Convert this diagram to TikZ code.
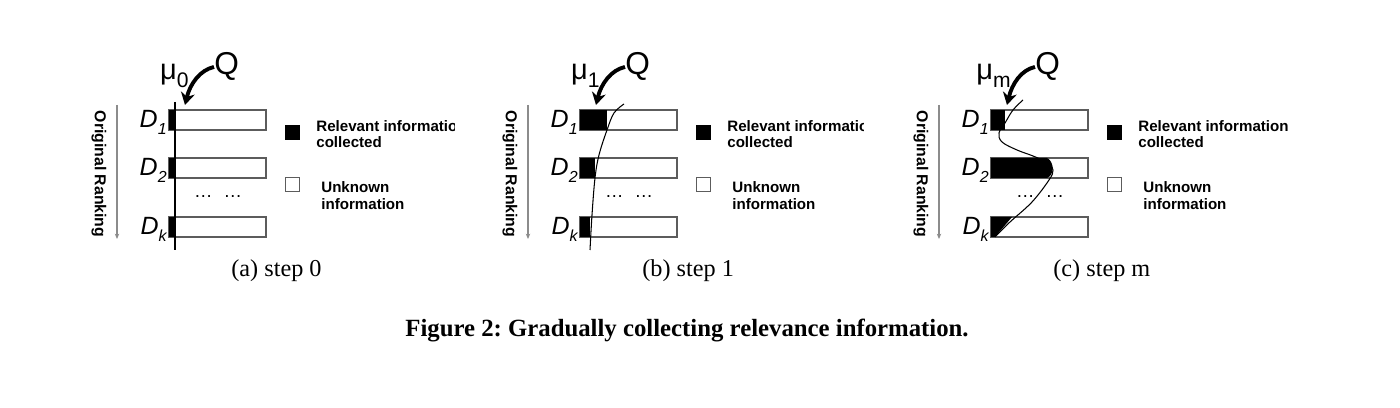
\documentclass[tikz,border=0pt]{standalone}
\usepackage{fontspec}
\setmainfont{Liberation Serif}
\setsansfont{Liberation Sans}
\usepackage{tikz}
\usetikzlibrary{positioning,arrows.meta}
\frenchspacing
\definecolor{BarGray}{HTML}{5C5C5C}
\definecolor{RankGray}{HTML}{8C8C8C}
\newcommand{\dsub}[1]{\raisebox{-3.5pt}{\fontsize{9.1}{10}\selectfont #1}}
\newcommand{\musub}[1]{\raisebox{-4.5pt}{\fontsize{12}{13}\selectfont #1}}
\tikzset{
  barbox/.style={draw=BarGray,fill=white,line width=0.8pt,
    minimum width=1.94cm,minimum height=0.40cm,inner sep=0pt},
  hitfill/.style={fill=black,draw=none},
  doclab/.style={font=\fontsize{14.2}{16}\selectfont\sffamily\itshape,
    inner sep=0pt,anchor=base east},
  qlab/.style={font=\fontsize{18}{20}\selectfont\sffamily,inner sep=0pt},
  mulab/.style={font=\fontsize{16.5}{18}\selectfont\sffamily,inner sep=0pt,anchor=base east},
  qarrow/.style={line width=2.2pt,-{Stealth[length=7pt,width=8pt]}},
  ranklab/.style={font=\fontsize{9}{10}\selectfont\sffamily\bfseries,
    rotate=-90,inner sep=0pt},
  rankarrow/.style={draw=RankGray,line width=0.6pt,
    -{Stealth[length=3pt,width=2.5pt]}},
  legblack/.style={fill=black,minimum width=0.30cm,minimum height=0.30cm,inner sep=0pt},
  legwhite/.style={draw=BarGray,fill=white,line width=0.6pt,
    minimum width=0.28cm,minimum height=0.28cm,inner sep=0pt},
  legrel/.style={font=\fontsize{8.6}{9.3}\selectfont\sffamily\bfseries,
    align=left,inner sep=0pt,anchor=west},
  legunk/.style={font=\fontsize{8.6}{9.7}\selectfont\sffamily\bfseries,
    align=left,inner sep=0pt,anchor=west},
  dotlab/.style={font=\fontsize{10.5}{12}\selectfont\sffamily,inner sep=0pt},
  sublab/.style={font=\fontsize{13.8}{16}\selectfont,inner sep=0pt,anchor=base west},
  curveline/.style={line width=0.6pt},
}

\begin{document}
\begin{tikzpicture}[x=0.02cm,y=-0.02cm]
  \useasboundingbox (0,0) rectangle (1400,408);

  % (a) step 0
  \begin{scope}
    \node[ranklab] (ranka) at (99,174) {Original Ranking};
    \coordinate (rtopa) at (117,105);
    \coordinate (rbota) at (117,239);
    \draw[rankarrow] (rtopa) -- (rbota);
    \node[barbox] (bar1a) at (217.5,120) {};
    \node[barbox] (bar2a) at (217.5,168) {};
    \node[barbox] (barka) at (217.5,227) {};
    \fill[hitfill] (169,110) rectangle (175,130);
    \fill[hitfill] (169,158) rectangle (175,178);
    \fill[hitfill] (169,217) rectangle (175,237);
    \draw[curveline] (175,102) -- (175,250);
    \node[doclab] (d1a) at (167,128) {D\dsub{1}};
    \node[doclab] (d2a) at (167,176) {D\dsub{2}};
    \node[doclab] (dka) at (167,235) {D\dsub{k}};
    \node[dotlab] (dotsa) at (218,197) {…\hspace{0.6em}…};
    \node[mulab] (mua) at (189,80) {μ\musub{0}};
    \node[qlab,anchor=base west] (qa) at (214,75) {Q};
    \coordinate (tipa) at (185,105);
    \draw[qarrow] (qa.west) .. controls (200,70) and (190,84) .. (tipa);
    \node[legblack] (lrela) at (292.5,132.5) {};
    \node[legwhite] (lunka) at (292.5,184.5) {};
    \begin{scope}
      \clip (305,100) rectangle (454,160);
      \node[legrel] (trela) at (316,134) {Relevant information\\collected};
    \end{scope}
    \node[legunk] (tunka) at (321,196) {Unknown\\information};
    \node[sublab] (capa) at (231,277) {(a) step 0};
  \end{scope}

  % (b) step 1
  \begin{scope}[shift={(411,0)}]
    \node[ranklab] (rankb) at (99,174) {Original Ranking};
    \coordinate (rtopb) at (117,105);
    \coordinate (rbotb) at (117,239);
    \draw[rankarrow] (rtopb) -- (rbotb);
    \node[barbox] (bar1b) at (217.5,120) {};
    \node[barbox] (bar2b) at (217.5,168) {};
    \node[barbox] (barkb) at (217.5,227) {};
    \fill[hitfill] (169,110) rectangle (196,130);
    \fill[hitfill] (169,158) rectangle (184,178);
    \fill[hitfill] (169,217) rectangle (179,237);
    \draw[curveline] plot[smooth,tension=0.6] coordinates
      {(213,104) (203,113) (196,130) (188,155) (184,178) (181,215) (179,250)};
    \node[doclab] (d1b) at (167,128) {D\dsub{1}};
    \node[doclab] (d2b) at (167,176) {D\dsub{2}};
    \node[doclab] (dkb) at (167,235) {D\dsub{k}};
    \node[dotlab] (dotsb) at (218,197) {…\hspace{0.6em}…};
    \node[mulab] (mub) at (189,80) {μ\musub{1}};
    \node[qlab,anchor=base west] (qb) at (214,75) {Q};
    \coordinate (tipb) at (185,105);
    \draw[qarrow] (qb.west) .. controls (200,70) and (190,84) .. (tipb);
    \node[legblack] (lrelb) at (292.5,132.5) {};
    \node[legwhite] (lunkb) at (292.5,184.5) {};
    \begin{scope}
      \clip (305,100) rectangle (452,160);
      \node[legrel] (trelb) at (316,134) {Relevant information\\collected};
    \end{scope}
    \node[legunk] (tunkb) at (321,196) {Unknown\\information};
    \node[sublab] (capb) at (231,277) {(b) step 1};
  \end{scope}

  % (c) step m
  \begin{scope}[shift={(822,0)}]
    \node[ranklab] (rankc) at (99,174) {Original Ranking};
    \coordinate (rtopc) at (117,105);
    \coordinate (rbotc) at (117,239);
    \draw[rankarrow] (rtopc) -- (rbotc);
    \node[barbox] (bar1c) at (217.5,120) {};
    \node[barbox] (bar2c) at (217.5,168) {};
    \node[barbox] (barkc) at (217.5,227) {};
    \fill[hitfill] (169,110) rectangle (183,130);
    \fill[hitfill] (169,158) -- (225,158) .. controls (232,161) and (233,175) .. (225,178)
      -- (169,178) -- cycle;
    \fill[hitfill] (169,217) -- (190,217) -- (173,237) -- (169,237) -- cycle;
    \draw[curveline] plot[smooth,tension=0.6] coordinates
      {(201,100) (191,110) (183,123) (177,133) (180,142) (195,150) (211,156)
       (226,163) (231,170) (227,180) (210,202) (188,222) (173,237)};
    \node[doclab] (d1c) at (167,128) {D\dsub{1}};
    \node[doclab] (d2c) at (167,176) {D\dsub{2}};
    \node[doclab] (dkc) at (167,235) {D\dsub{k}};
    \node[dotlab] (dotsc) at (218,197) {…\hspace{0.6em}…};
    \node[mulab] (muc) at (189,80) {μ\musub{m}};
    \node[qlab,anchor=base west] (qc) at (213,75) {Q};
    \coordinate (tipc) at (185,105);
    \draw[qarrow] (qc.west) .. controls (199,70) and (190,84) .. (tipc);
    \node[legblack] (lrelc) at (292.5,132.5) {};
    \node[legwhite] (lunkc) at (292.5,184.5) {};
    \node[legrel] (trelc) at (316,134) {Relevant information\\collected};
    \node[legunk] (tunkc) at (321,196) {Unknown\\information};
    \node[sublab] (capc) at (231,277) {(c) step m};
  \end{scope}

  \node[font=\fontsize{14.1}{16}\selectfont\bfseries,inner sep=0pt,anchor=base]
    (figcap) at (687,337) {Figure 2: Gradually collecting relevance information.};
\end{tikzpicture}
\end{document}
